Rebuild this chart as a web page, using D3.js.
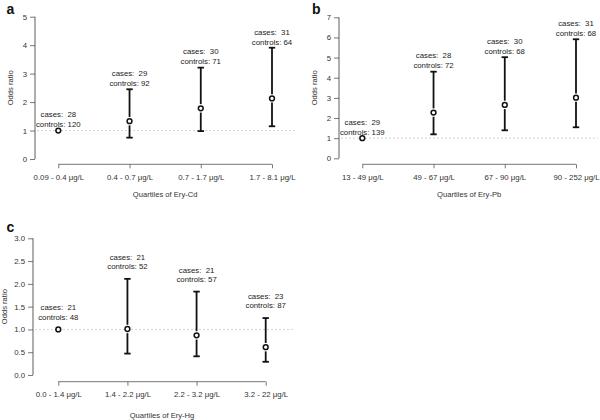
<!DOCTYPE html>
<html><head><meta charset="utf-8">
<script src="https://cdn.jsdelivr.net/npm/d3@7"></script>
<style>body{margin:0;background:#fff}svg{display:block}text{font-family:"Liberation Sans",Arial,sans-serif}</style>
</head><body>
<svg id="chart" width="600" height="420"></svg>
<script>
// Panel a: Ery-Cd
const catsA = ["0.09 - 0.4 \u03bcg/L", "0.4 - 0.7 \u03bcg/L", "0.7 - 1.7 \u03bcg/L", "1.7 - 8.1 \u03bcg/L"];
const orA = [1.0, 1.33, 1.78, 2.13];
const loA = [null, 0.75, 0.98, 1.15];
const hiA = [null, 2.45, 3.21, 3.91];
const casesA = [28, 29, 30, 31];
const controlsA = [120, 92, 71, 64];
const ticksA = [0, 1, 2, 3, 4, 5];
// Panel b: Ery-Pb
const catsB = ["13 - 49 \u03bcg/L", "49 - 67 \u03bcg/L", "67 - 90 \u03bcg/L", "90 - 252 \u03bcg/L"];
const orB = [1.0, 2.27, 2.65, 3.01];
const loB = [null, 1.19, 1.39, 1.54];
const hiB = [null, 4.30, 5.02, 5.91];
const casesB = [29, 28, 30, 31];
const controlsB = [139, 72, 68, 68];
const ticksB = [0, 1, 2, 3, 4, 5, 6, 7];
// Panel c: Ery-Hg
const catsC = ["0.0 - 1.4 \u03bcg/L", "1.4 - 2.2 \u03bcg/L", "2.2 - 3.2 \u03bcg/L", "3.2 - 22 \u03bcg/L"];
const orC = [1.0, 1.01, 0.87, 0.61];
const loC = [null, 0.47, 0.41, 0.29];
const hiC = [null, 2.11, 1.83, 1.25];
const casesC = [21, 21, 21, 23];
const controlsC = [48, 52, 57, 87];
const ticksC = [0, 0.5, 1.0, 1.5, 2.0, 2.5, 3.0];

const svg = d3.select("#chart");
const FS = 7.8;

function panel(o) {
  const g = svg.append("g");
  const y = d3.scaleLinear().domain([0, o.ymax]).range([o.y0, o.y1]);
  const x = d3.scalePoint().domain(o.cats).range([o.xa, o.xb]);
  // reference line at OR = 1
  g.append("line").attr("x1", o.axX + 2).attr("x2", o.refEnd)
    .attr("y1", y(1)).attr("y2", y(1))
    .attr("stroke", "#c8c8c8").attr("stroke-width", 0.8).attr("stroke-dasharray", "2,2");
  // y axis
  const ya = g.append("g").attr("transform", `translate(${o.axX},0)`)
    .call(d3.axisLeft(y).tickValues(o.ticks).tickSize(5).tickPadding(3)
      .tickFormat(o.fmt));
  ya.select(".domain").attr("stroke", "#9a9a9a").attr("stroke-width", 1.6)
    .attr("d", `M0,${y(0)}V${y(o.ymax)}`);
  ya.selectAll(".tick line").attr("stroke", "#555").attr("stroke-width", 0.8);
  ya.selectAll(".tick text").attr("font-size", FS).attr("fill", "#333")
    .attr("font-family", "Liberation Sans, Arial, sans-serif");
  // x axis
  const xa = g.append("g").attr("transform", `translate(0,${o.axY})`)
    .call(d3.axisBottom(x).tickSize(4).tickPadding(6));
  xa.select(".domain").attr("stroke", "#666").attr("stroke-width", 0.9)
    .attr("d", `M${o.xa},0H${o.xb}`);
  xa.selectAll(".tick line").attr("stroke", "#555").attr("stroke-width", 0.8);
  xa.selectAll(".tick text").attr("font-size", FS).attr("fill", "#333")
    .attr("font-family", "Liberation Sans, Arial, sans-serif");
  // axis titles
  g.append("text").attr("x", (o.xa + o.xb) / 2).attr("y", o.xtY)
    .attr("text-anchor", "middle").attr("font-size", 7.6).attr("fill", "#333").text(o.xtitle);
  g.append("text").attr("transform", `translate(${o.ytX},${(y(0) + y(o.ymax)) / 2}) rotate(-90)`)
    .attr("text-anchor", "middle").attr("font-size", 7.6).attr("fill", "#333").text("Odds ratio");
  // panel letter
  g.append("text").attr("x", o.lx).attr("y", o.ly).attr("font-size", 14)
    .attr("font-weight", "bold").attr("fill", "#111").text(o.letter);
  // error bars
  const r = 2.4, gap = 4.2, cap = 3.2;
  o.cats.forEach((c, i) => {
    const cx = x(c), cy = y(o.or[i]);
    if (o.hi[i] != null) {
      const yh = y(o.hi[i]), yl = y(o.lo[i]);
      g.append("line").attr("x1", cx).attr("x2", cx).attr("y1", yh).attr("y2", cy - gap)
        .attr("stroke", "#111").attr("stroke-width", 1.8);
      g.append("line").attr("x1", cx).attr("x2", cx).attr("y1", cy + gap).attr("y2", yl)
        .attr("stroke", "#111").attr("stroke-width", 1.8);
      [yh, yl].forEach(v => g.append("line").attr("x1", cx - cap).attr("x2", cx + cap)
        .attr("y1", v).attr("y2", v).attr("stroke", "#111").attr("stroke-width", 1.8));
    }
    g.append("circle").attr("cx", cx).attr("cy", cy).attr("r", r)
      .attr("fill", "#fff").attr("stroke", "#111").attr("stroke-width", 1.5);
    const top = o.hi[i] != null ? y(o.hi[i]) : cy;
    const l2 = top - o.off, l1 = l2 - o.sp;
    g.append("text").attr("x", cx).attr("y", l1 + 2.8).attr("text-anchor", "middle")
      .attr("font-size", FS).attr("fill", "#222").attr("xml:space", "preserve")
      .style("white-space", "pre").text(`cases:  ${o.cases[i]}`);
    g.append("text").attr("x", cx).attr("y", l2 + 2.8).attr("text-anchor", "middle")
      .attr("font-size", FS).attr("fill", "#222").text(`controls: ${o.controls[i]}`);
  });
}

panel({cats: catsA, or: orA, lo: loA, hi: hiA, cases: casesA, controls: controlsA,
  ticks: ticksA, fmt: d3.format("d"), ymax: 5, y0: 159, y1: 16.7, xa: 58.3, xb: 272,
  axX: 35, axY: 164.3, refEnd: 295, xtY: 197, ytX: 13, xtitle: "Quartiles of Ery-Cd",
  letter: "a", lx: 6.5, ly: 13.5, off: 6, sp: 10});
panel({cats: catsB, or: orB, lo: loB, hi: hiB, cases: casesB, controls: controlsB,
  ticks: ticksB, fmt: d3.format("d"), ymax: 7, y0: 158.3, y1: 17.3, xa: 362.3, xb: 576,
  axX: 339, axY: 164.3, refEnd: 598, xtY: 197, ytX: 317, xtitle: "Quartiles of Ery-Pb",
  letter: "b", lx: 312, ly: 13.5, off: 6.3, sp: 10});
panel({cats: catsC, or: orC, lo: loC, hi: hiC, cases: casesC, controls: controlsC,
  ticks: ticksC, fmt: d3.format(".1f"), ymax: 3, y0: 375, y1: 238.3, xa: 58.3, xb: 265.7,
  axX: 33, axY: 381.7, refEnd: 293, xtY: 417.5, ytX: 7, xtitle: "Quartiles of Ery-Hg",
  letter: "c", lx: 6.5, ly: 232, off: 12.5, sp: 9.4});
</script>
</body></html>
